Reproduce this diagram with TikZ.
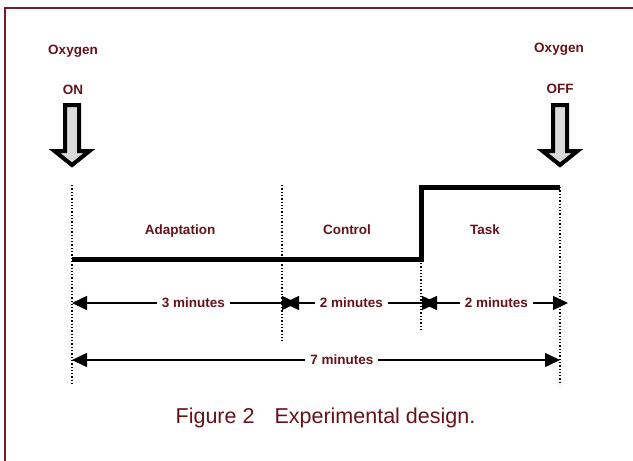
\documentclass[tikz,border=0pt]{standalone}
\usepackage{fontspec}
\setmainfont{Liberation Sans}
\usetikzlibrary{arrows.meta}
\definecolor{frmred}{RGB}{118,28,38}
\definecolor{txtred}{RGB}{102,18,26}
\definecolor{oxgray}{RGB}{218,218,218}

\begin{document}
\begin{tikzpicture}[
  x=1pt, y=-1pt,
  lbl/.style={text=txtred, font=\fontsize{13.5}{16}\selectfont\bfseries, inner sep=0pt, anchor=base},
  dimlbl/.style={text=txtred, font=\fontsize{13.5}{16}\selectfont\bfseries, fill=white, inner xsep=5pt, inner ysep=1pt},
  dimarr/.style={{Triangle[length=15pt,width=14pt]}-{Triangle[length=15pt,width=14pt]}, line width=1.5pt},
  guide/.style={dotted, line width=1.3pt},
  signal/.style={line width=5pt, line join=miter},
  oxyarr/.style={draw=black, fill=oxgray, line width=4pt, line join=miter}
]
\useasboundingbox (0,0) rectangle (633,461);
\draw[frmred, line width=2pt] (5,461) -- (5,8) -- (633,8);

% oxygen on / off
\node[lbl] (oxyon) at (73,54) {Oxygen};
\node[lbl] (on) at (73,94) {ON};
\node[lbl] (oxyoff) at (559,52) {Oxygen};
\node[lbl] (off) at (560,93) {OFF};
\foreach \ax in {72,560}
  \draw[oxyarr] (\ax-7,105) -- (\ax-7,151) -- (\ax-17.5,151) -- (\ax,165) -- (\ax+17.5,151) -- (\ax+7,151) -- (\ax+7,105) -- cycle;

% time marks
\coordinate (g0a) at (72,185);  \coordinate (g0b) at (72,385);
\coordinate (g1a) at (282,185); \coordinate (g1b) at (282,343);
\coordinate (g2a) at (421,187); \coordinate (g2b) at (421,332);
\coordinate (g3a) at (560,187); \coordinate (g3b) at (560,385);
\draw[guide] (g0a) -- (g0b);
\draw[guide] (g1a) -- (g1b);
\draw[guide] (g2a) -- (g2b);
\draw[guide] (g3a) -- (g3b);

% signal
\coordinate (sig0) at (72,259);
\coordinate (sig1) at (421,259);
\coordinate (sig2) at (560,187);
\draw[signal] (sig0) -- (sig1) |- (sig2);

\node[lbl] (adapt) at (180,234) {Adaptation};
\node[lbl] (control) at (347,234) {Control};
\node[lbl] (task) at (485,234) {Task};

% durations
\coordinate (d0) at (72,303);  \coordinate (d1) at (297,303);
\coordinate (d2) at (284,303); \coordinate (d3) at (437,303);
\coordinate (d4) at (422,303); \coordinate (d5) at (568,303);
\coordinate (e0) at (72,360);  \coordinate (e1) at (560,360);
\draw[dimarr] (d0) -- node[dimlbl, pos=.54] (min3) {3 minutes} (d1);
\draw[dimarr] (d2) -- node[dimlbl, pos=.44] (min2a) {2 minutes} (d3);
\draw[dimarr] (d4) -- node[dimlbl, pos=.51] (min2b) {2 minutes} (d5);
\draw[dimarr] (e0) -- node[dimlbl, pos=.553] (min7) {7 minutes} (e1);

\node[text=txtred, font=\fontsize{21.5}{24}\selectfont, anchor=base, inner sep=0pt] (caption) at (325.5,423) {Figure 2\hspace{20pt}Experimental design.};
\end{tikzpicture}
\end{document}
